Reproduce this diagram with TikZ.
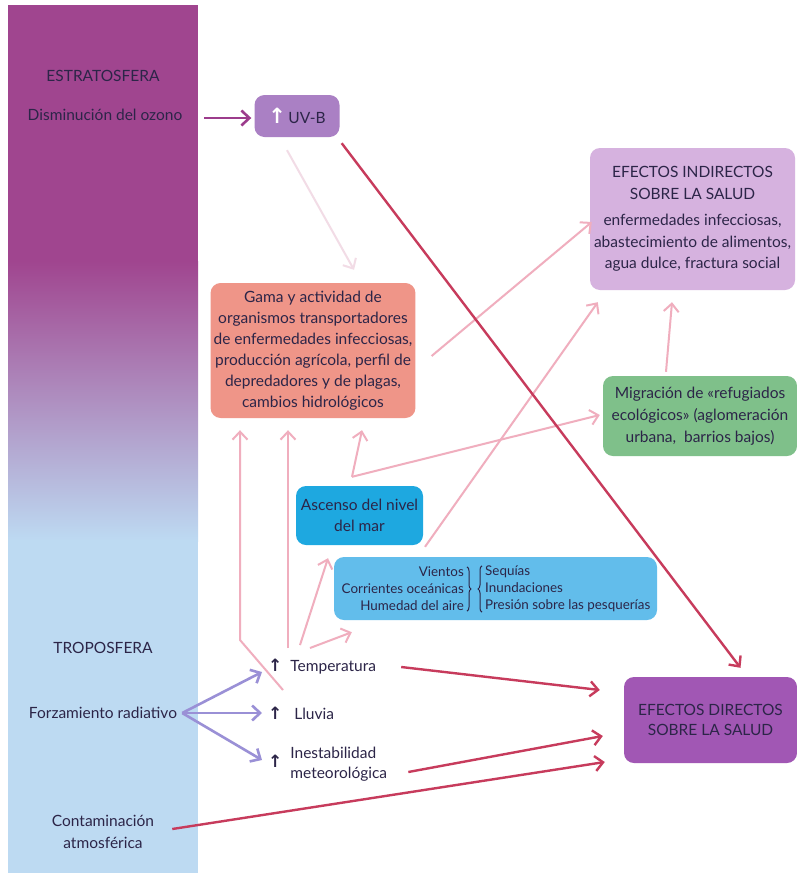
\documentclass[tikz,border=0pt]{standalone}
\usepackage{fontspec}
\setmainfont{Lato}
\newfontfamily\symf{DejaVu Sans}
\usetikzlibrary{arrows.meta,calc,decorations.pathreplacing}
\definecolor{strato}{HTML}{A0458F}
\definecolor{tropo}{HTML}{BDDAF2}
\definecolor{uvbc}{HTML}{AA80C4}
\definecolor{indc}{HTML}{D6B2DF}
\definecolor{orc}{HTML}{EF9588}
\definecolor{grc}{HTML}{7FC08A}
\definecolor{seac}{HTML}{1EA8E0}
\definecolor{windc}{HTML}{62BDEB}
\definecolor{dirc}{HTML}{A157B4}
\definecolor{redc}{HTML}{C73B5C}
\definecolor{pinkc}{HTML}{F0AEBE}
\definecolor{lavc}{HTML}{9A90D6}
\definecolor{ozc}{HTML}{9C3C8C}
\definecolor{faintc}{HTML}{F2DCE6}
\definecolor{txt}{HTML}{2C2548}
\begin{document}
\begin{tikzpicture}[x=1pt,y=-1pt,
  lt/.style={text=txt, inner sep=0pt, font=\fontsize{15.5}{20}\selectfont},
  wt/.style={text=txt, inner sep=0pt, font=\fontsize{13.4}{17}\selectfont},
  box/.style={rounded corners=10pt, inner sep=3pt, align=center, text=txt},
  brc/.style={draw=txt, line width=1pt, decorate, decoration={brace, amplitude=4pt}},
  tip/.style={-{Straight Barb[length=8pt,width=15pt]}},
  redarr/.style={tip, draw=redc, line width=2.4pt},
  pkarr/.style={tip, draw=pinkc, line width=2pt},
  lavarr/.style={tip, draw=lavc, line width=2.6pt},
  ozarr/.style={tip, draw=ozc, line width=2.6pt},
  faintarr/.style={tip, draw=faintc, line width=2pt}]
\useasboundingbox (0,0) rectangle (797,873);
\fill[white] (0,0) rectangle (797,873);
% atmosphere column
\fill[strato] (8,5) rectangle (198,262);
\shade[top color=strato, bottom color=tropo] (8,261) rectangle (198,541);
\fill[tropo] (8,540) rectangle (198,873);
% left texts
\node[lt] (strat) at (103,76) {ESTRATOSFERA};
\node[lt] (ozone) at (105,115) {Disminución del ozono};
\node[lt] (tropo) at (103,648) {TROPOSFERA};
\node[lt] (forz) at (103,713) {Forzamiento radiativo};
\node[lt, align=center, font=\fontsize{15.5}{22}\selectfont] (contam) at (103,832) {Contaminación\\atmosférica};
% boxes
\node[box, fill=uvbc, minimum width=85pt, minimum height=42pt, font=\fontsize{15.5}{18}\selectfont] (uvb) at (297,116)
  {{\symf\bfseries\fontsize{21}{21}\selectfont\textcolor{white}{↑}}\,UV-B};
\node[box, fill=indc, minimum width=205pt, minimum height=142pt, font=\fontsize{15.5}{21.5}\selectfont] (ind) at (692.5,219)
  {EFECTOS INDIRECTOS\\SOBRE LA SALUD\\[5pt]enfermedades infecciosas,\\abastecimiento de alimentos,\\agua dulce, fractura social};
\node[box, fill=orc, minimum width=202pt, minimum height=135pt, font=\fontsize{15.5}{21}\selectfont] (orange) at (313,350.5)
  {Gama y actividad de\\organismos transportadores\\de enfermedades infecciosas,\\producción agrícola, perfil de\\depredadores y de plagas,\\cambios hidrológicos};
\node[box, fill=grc, minimum width=194pt, minimum height=80pt, font=\fontsize{15.5}{22}\selectfont] (green) at (700,416)
  {Migración de «refugiados\\ecológicos» (aglomeración\\urbana,\ \ barrios bajos)};
\node[box, fill=seac, minimum width=127pt, minimum height=59pt, font=\fontsize{15.5}{21}\selectfont] (sea) at (359.5,515.5)
  {Ascenso del nivel\\del mar};
\node[box, fill=windc, minimum width=323pt, minimum height=63pt] (winds) at (495.5,588.5) {};
\node[wt, align=right, anchor=east] (wl) at (464,589) {Vientos\\Corrientes oceánicas\\Humedad del aire};
\node[wt, align=left, anchor=west] (wr) at (485,589) {Sequías\\Inundaciones\\Presión sobre las pesquerías};
\draw[brc] ($(wl.north east)+(3,0)$) -- ($(wl.south east)+(3,0)$);
\draw[brc] ($(wr.south west)+(-3,0)$) -- ($(wr.north west)+(-3,0)$);
\node[box, fill=dirc, minimum width=173pt, minimum height=86pt, font=\fontsize{15.5}{20}\selectfont] (direct) at (710.5,720)
  {EFECTOS DIRECTOS\\SOBRE LA SALUD};
% middle items
\node[lt, anchor=west] (temp) at (268,667) {{\symf\bfseries\fontsize{17}{17}\selectfont ↑}\ \ Temperatura};
\node[lt, anchor=west] (lluvia) at (268,713) {{\symf\bfseries\fontsize{17}{17}\selectfont ↑}\ \ \ Lluvia};
\node[lt, anchor=west] (inest) at (268,764) {{\symf\bfseries\fontsize{17}{17}\selectfont ↑}\ \ \begin{tabular}{@{}l@{}}Inestabilidad\\[0pt]meteorológica\end{tabular}};
% connectors
\draw[ozarr] ($(ozone.east)+(22,3)$) -- ($(uvb.west)+(-3,2)$);
\draw[faintarr] ($(uvb.south)+(-10,13)$) -- ($(orange.north)+(41,-13)$);
\draw[pkarr] ($(orange.east)+(16,5.5)$) -- ($(ind.west)+(2,3)$);
\draw[pkarr] ($(winds.north)+(-70.5,-10)$) -- ($(ind.south west)+(8,12)$);
\draw[pkarr] ($(green.north)+(-34,-4)$) -- ($(ind.south)+(-20.5,12)$);
\draw[pkarr] ($(sea.north)+(-7.5,-9)$) -- ($(orange.south)+(49,12)$);
\draw[pkarr] ($(sea.north)+(-7.5,-9)$) -- ($(green.west)+(-3,-1)$);
\draw[pkarr] ($(temp.west)+(20,-19)$) -- ($(orange.south)+(-25,12)$);
\draw[pkarr] ($(lluvia.west)+(15,-23)$) -- ($(lluvia.west)+(-28,-73)$) -- ($(orange.south)+(-73,12)$);
\draw[pkarr] ($(temp.west)+(32,-22)$) -- ($(sea.south)+(-31.5,13)$);
\draw[pkarr] ($(temp.west)+(42,-19)$) -- ($(winds.south west)+(18,12)$);
\draw[redarr] ($(uvb.south east)+(2,6)$) -- ($(direct.north)+(30,-9)$);
\draw[lavarr] ($(forz.east)+(5,0)$) -- ($(temp.west)+(-6,5)$);
\draw[lavarr] ($(forz.east)+(5,0)$) -- ($(lluvia.west)+(-6,0)$);
\draw[lavarr] ($(forz.east)+(5,0)$) -- ($(inest.west)+(-6,-4)$);
\draw[redarr] ($(temp.east)+(25,0)$) -- ($(direct.west)+(-24,-30)$);
\draw[redarr] ($(inest.east)+(21,8)$) -- ($(direct.west)+(-21,16)$);
\draw[redarr] ($(contam.east)+(18,-3)$) -- ($(direct.west)+(-19,42)$);
\end{tikzpicture}
\end{document}
